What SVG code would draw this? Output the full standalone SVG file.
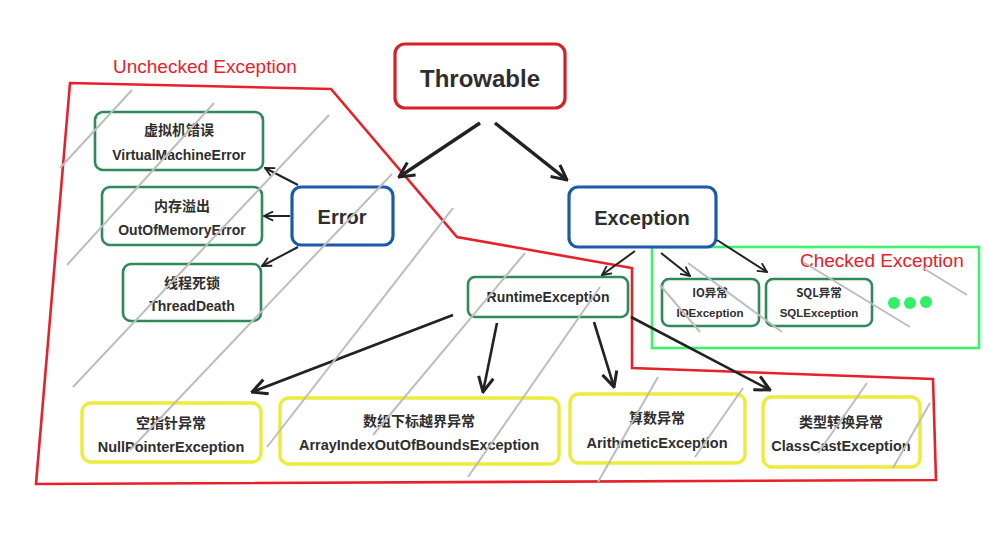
<svg xmlns="http://www.w3.org/2000/svg" width="990" height="535" viewBox="0 0 990 535">
<defs>
<style>
.bg{fill:#ffffff}
.n{fill:#ffffff;stroke-width:2.6}
.red{stroke:#d42026;stroke-width:3.2}
.blue{stroke:#1d5aa8;stroke-width:3.2}
.green{stroke:#2e8a58}
.yellow{stroke:#ecec3a;stroke-width:3.4}
.t{font-family:"Liberation Sans","Noto Sans CJK SC",sans-serif;font-weight:bold;fill:#2e2e2e;text-anchor:middle}
.cjk{font-family:"Noto Sans CJK SC","Liberation Sans",sans-serif;font-weight:bold;fill:#2e2e2e;text-anchor:middle}
.lbl{font-family:"Liberation Sans","Noto Sans",sans-serif;fill:#e8202a;font-size:19px}
.e{fill:none;stroke:#222222;stroke-width:2}
.E{fill:none;stroke:#222222;stroke-width:3.4}
.h{stroke:#bdbdbd;stroke-width:2;fill:none}
</style>
<marker id="a" viewBox="0 0 12 12" refX="11" refY="6" markerWidth="11" markerHeight="11" markerUnits="userSpaceOnUse" orient="auto"><path d="M1,1 L11,6 L1,11" fill="none" stroke="#222222" stroke-width="2"/></marker>
<marker id="A" viewBox="0 0 12 12" refX="11" refY="6" markerWidth="18" markerHeight="18" markerUnits="userSpaceOnUse" orient="auto"><path d="M1,1 L11,6 L1,11" fill="none" stroke="#222222" stroke-width="2"/></marker>
</defs>
<rect class="bg" x="0" y="0" width="990" height="535"/>

<g id="unchecked-region">
<polygon points="70,83 331,89 457,237 632,268 632,368 933,379 936,480 36,484" fill="none" stroke="#e8202a" stroke-width="2.6"/>
<text class="lbl" x="113" y="73">Unchecked Exception</text>
</g>
<g id="checked-region">
<rect x="652" y="247" width="327" height="101" fill="none" stroke="#3df26c" stroke-width="2.6"/>
<text class="lbl" x="800" y="267">Checked Exception</text>
</g>

<g id="throwable"><rect class="n red" x="395" y="44" width="170" height="64" rx="10"/><text class="t" x="480" y="87" font-size="24">Throwable</text></g>
<g id="error"><rect class="n blue" x="292" y="187" width="101" height="58" rx="9"/><text class="t" x="342" y="224" font-size="20">Error</text></g>
<g id="exception"><rect class="n blue" x="569" y="187" width="147" height="60" rx="9"/><text class="t" x="642" y="225" font-size="20">Exception</text></g>

<g id="vme"><rect class="n green" x="95" y="112" width="168" height="58" rx="8"/><text class="cjk" x="179" y="135" font-size="14">虚拟机错误</text><text class="t" x="179" y="160" font-size="14">VirtualMachineError</text></g>
<g id="oom"><rect class="n green" x="102" y="187" width="160" height="58" rx="8"/><text class="cjk" x="182" y="211" font-size="14">内存溢出</text><text class="t" x="182" y="235" font-size="14">OutOfMemoryError</text></g>
<g id="threaddeath"><rect class="n green" x="123" y="264" width="138" height="57" rx="8"/><text class="cjk" x="192" y="288" font-size="14">线程死锁</text><text class="t" x="192" y="311" font-size="14">ThreadDeath</text></g>

<g id="runtime"><rect class="n green" x="468" y="277" width="160" height="40" rx="7"/><text class="t" x="548" y="302" font-size="14">RuntimeException</text></g>
<g id="ioexception"><rect class="n green" x="662" y="279" width="97" height="47" rx="7"/><text class="cjk" x="710" y="297" font-size="11.5">IO异常</text><text class="t" x="710" y="317" font-size="11.5">IOException</text></g>
<g id="sqlexception"><rect class="n green" x="766" y="279" width="106" height="47" rx="7"/><text class="cjk" x="819" y="297" font-size="11.5">SQL异常</text><text class="t" x="819" y="317" font-size="11.5">SQLException</text></g>
<g id="more"><circle cx="894" cy="303" r="6" fill="#33ee66"/><circle cx="910" cy="303" r="6" fill="#33ee66"/><circle cx="926" cy="302" r="6" fill="#33ee66"/></g>

<g id="npe"><rect class="n yellow" x="82" y="403" width="179" height="59" rx="9"/><text class="cjk" x="171" y="428" font-size="14">空指针异常</text><text class="t" x="171" y="452" font-size="14.5">NullPointerException</text></g>
<g id="aioobe"><rect class="n yellow" x="280" y="398" width="279" height="66" rx="9"/><text class="cjk" x="419" y="426" font-size="14">数组下标越界异常</text><text class="t" x="419" y="450" font-size="14.5">ArrayIndexOutOfBoundsException</text></g>
<g id="arith"><rect class="n yellow" x="570" y="394" width="175" height="69" rx="9"/><text class="cjk" x="657" y="423" font-size="14">算数异常</text><text class="t" x="657" y="448" font-size="14.5">ArithmeticException</text></g>
<g id="classcast"><rect class="n yellow" x="763" y="397" width="157" height="70" rx="9"/><text class="cjk" x="841" y="427" font-size="14">类型转换异常</text><text class="t" x="841" y="451" font-size="14.5">ClassCastException</text></g>

<g id="connectors">
<line class="E" x1="480" y1="123" x2="399" y2="177" marker-end="url(#A)"/>
<line class="E" x1="495" y1="123" x2="567" y2="180" marker-end="url(#A)"/>
<line class="e" x1="298" y1="185" x2="265" y2="168" marker-end="url(#a)"/>
<line class="e" x1="290" y1="216" x2="264" y2="216" marker-end="url(#a)"/>
<line class="e" x1="298" y1="247" x2="262" y2="266" marker-end="url(#a)"/>
<line class="e" x1="635" y1="251" x2="602" y2="275" marker-end="url(#a)"/>
<line class="e" x1="661" y1="253" x2="690" y2="276" marker-end="url(#a)"/>
<line class="e" x1="717" y1="240" x2="767" y2="272" marker-end="url(#a)"/>
<line class="E" style="stroke-width:2.6" x1="453" y1="315" x2="252" y2="392" marker-end="url(#A)"/>
<line class="E" style="stroke-width:2.6" x1="497" y1="323" x2="483" y2="392" marker-end="url(#A)"/>
<line class="E" style="stroke-width:2.6" x1="594" y1="322" x2="614" y2="387" marker-end="url(#A)"/>
<line class="E" style="stroke-width:2.6" x1="631" y1="317" x2="770" y2="390" marker-end="url(#A)"/>
</g>

<g id="hatching">
<line class="h" x1="60" y1="168" x2="132" y2="90"/>
<line class="h" x1="67" y1="265" x2="214" y2="103"/>
<line class="h" x1="329" y1="115" x2="73" y2="387"/>
<line class="h" x1="392" y1="174" x2="130" y2="450"/>
<line class="h" x1="453" y1="208" x2="267" y2="447"/>
<line class="h" x1="525" y1="253" x2="373" y2="435"/>
<line class="h" x1="600" y1="287" x2="468" y2="477"/>
<line class="h" x1="658" y1="377" x2="598" y2="482"/>
<line class="h" x1="743" y1="388" x2="695" y2="457"/>
<line class="h" x1="867" y1="383" x2="818" y2="453"/>
<line class="h" x1="930" y1="403" x2="893" y2="468"/>
<line class="h" x1="660" y1="285" x2="700" y2="332"/>
<line class="h" x1="688" y1="263" x2="782" y2="332"/>
<line class="h" x1="803" y1="262" x2="910" y2="327"/>
<line class="h" x1="923" y1="268" x2="967" y2="295"/>
</g>
</svg>
